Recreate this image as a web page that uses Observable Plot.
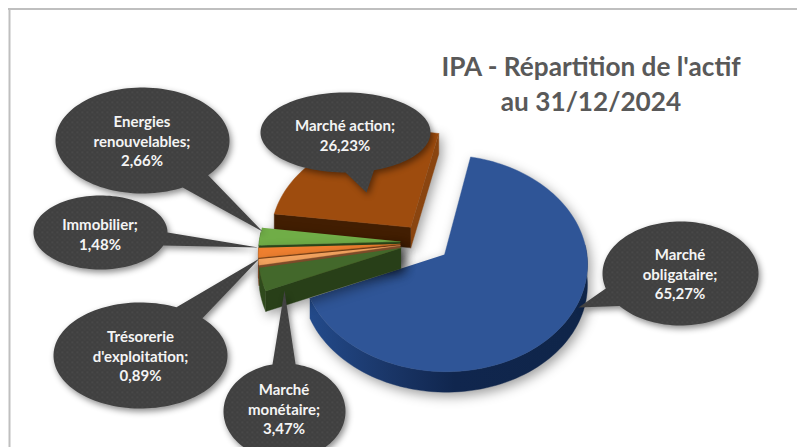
<!DOCTYPE html>
<html lang="fr">
<head>
<meta charset="utf-8">
<script src="https://cdn.jsdelivr.net/npm/d3@7"></script>
<script src="https://cdn.jsdelivr.net/npm/@observablehq/plot@0.6"></script>
<style>
  html, body { margin: 0; padding: 0; background: #fff; }
  svg { display: block; }
</style>
</head>
<body>
<div id="chart"></div>
<script>
// --- Data
const categories = ["Marché obligataire", "Marché monétaire", "Trésorerie d'exploitation", "Immobilier", "Energies renouvelables", "Marché action"];
const shares = [65.27, 3.47, 0.89, 1.48, 2.66, 26.23];
const labels = ["Marché\nobligataire;", "Marché\nmonétaire;", "Trésorerie\nd'exploitation;", "Immobilier;", "Energies\nrenouvelables;", "Marché action;"];
const titleLines = ["IPA - Répartition de l'actif", "au 31/12/2024"];

// --- Styles
const topColors = ["#2f5597", "#43682b", "#f4a460", "#f08030", "#70ad47", "#9e4c0e"];
const cutColors = ["#12264f", "#283f18", "#85502c", "#7a4018", "#2f4a1c", "#421e02"];
const sideColors = ["url(#blueWall)", "#2f4a1c", "#85502c", "#7a4018", "#2f4a1c", "#8a4510"];
const paintOrder = [0, 5, 4, 3, 2, 1];

// --- Pie geometry (perspective view of an exploded pie)
const pie = {cx: 424.6, cy: 242, r: 141, explode: 25, tilt: 0.75, persp: 0.08, depth: 20.5, start: 12};
const rad = (d) => d * Math.PI / 180;
function project(X, Z, drop = 0) {
  const s = 1 / (1 + pie.persp * Z / pie.r);
  return {x: pie.cx + X * s, y: pie.cy - Z * pie.tilt * s + drop};
}
let acc = pie.start;
const slices = shares.map((v, i) => {
  const a0 = acc, a1 = acc + v * 3.6;
  acc = a1;
  return {i, a0, a1, mid: (a0 + a1) / 2};
});
function offset(s) {
  return [pie.explode * Math.sin(rad(s.mid)), pie.explode * Math.cos(rad(s.mid))];
}
function rim(s, a, drop = 0) {
  const [ox, oz] = offset(s);
  return project(ox + pie.r * Math.sin(rad(a)), oz + pie.r * Math.cos(rad(a)), drop);
}
function apex(s, drop = 0) {
  const [ox, oz] = offset(s);
  return project(ox, oz, drop);
}
function arc(s, a0, a1, drop = 0) {
  const n = Math.max(2, Math.ceil((a1 - a0) / 2));
  return d3.range(n + 1).map((k) => rim(s, a0 + (a1 - a0) * k / n, drop));
}
function polys(s) {
  const d = pie.depth, out = [];
  const add = (key, pts, color) => pts.forEach((p) => out.push({key: `${s.i}-${key}`, x: p.x, y: p.y, color}));
  // Walls that face the viewer, then the top face
  const lo = Math.max(s.a0, 85), hi = Math.min(s.a1, 275);
  if (lo < hi) add("rim", [...arc(s, lo, hi), ...arc(s, lo, hi, d).reverse()], sideColors[s.i]);
  if (s.i !== 0) add("cut0", [apex(s), rim(s, s.a0), rim(s, s.a0, d), apex(s, d)], cutColors[s.i]);
  if (s.i === 5) add("cut1", [apex(s), rim(s, s.a1), rim(s, s.a1, d), apex(s, d)], sideColors[s.i]);
  add("top", [apex(s), ...arc(s, s.a0, s.a1)], topColors[s.i]);
  return out;
}

// --- Callout layout
const bubbles = [
  {i: 0, cx: 680, cy: 273, rx: 78, ry: 52, tip: [578, 307], base: [[605, 288], [620, 305]]},
  {i: 1, cx: 284, cy: 411, rx: 61, ry: 48, tip: [284, 290], base: [[272, 364], [295, 364]]},
  {i: 2, cx: 140, cy: 355, rx: 87, ry: 53, tip: [259, 258], base: [[178, 304], [205, 316]]},
  {i: 3, cx: 100, cy: 232, rx: 67, ry: 37, tip: [258, 247], base: [[167, 232], [163, 245]]},
  {i: 4, cx: 142, cy: 140, rx: 87, ry: 53, tip: [262, 231], base: [[183, 188], [208, 175]]},
  {i: 5, cx: 345, cy: 132, rx: 85, ry: 40, tip: [366, 192], base: [[345, 171], [373, 169]]}
];
function bubbleOutline(b) {
  const ang = ([x, y]) => Math.atan2((y - b.cy) / b.ry, (x - b.cx) / b.rx);
  let a1 = ang(b.base[0]), a2 = ang(b.base[1]);
  let delta = (a2 - a1 + 2 * Math.PI) % (2 * Math.PI);
  if (delta < Math.PI) { [a1, a2] = [a2, a1]; delta = 2 * Math.PI - delta; }
  const n = 120;
  const pts = d3.range(n + 1).map((k) => {
    const t = a1 + delta * k / n;
    return {x: b.cx + b.rx * Math.cos(t), y: b.cy + b.ry * Math.sin(t), key: b.i};
  });
  pts.push({x: b.tip[0], y: b.tip[1], key: b.i});
  return pts;
}
const fmt = (v) => v.toFixed(2).replace(".", ",") + "%";
const textDy = [0, -3, 0, 1, 0, 2];
const bubbleText = bubbles.map((b) => ({
  x: b.cx - (b.i === 2 ? 0 : 0.5), y: b.cy + textDy[b.i] - (b.i === 5 ? 0 : 0),
  text: `${labels[b.i]}\n${fmt(shares[b.i])}`
}));

// Pattern and gradient definitions, added as a render-only mark
const defs = () => {
  const ns = "http://www.w3.org/2000/svg";
  const g = document.createElementNS(ns, "defs");
  g.innerHTML = `
    <pattern id="dots" width="5" height="5" patternUnits="userSpaceOnUse">
      <rect width="5" height="5" fill="#404040"/>
      <rect x="1" y="1" width="1.6" height="1.6" fill="#4c4c4c"/>
      <rect x="3.5" y="3.5" width="1.4" height="1.4" fill="#484848"/>
    </pattern>
    <linearGradient id="blueWall" gradientUnits="userSpaceOnUse" x1="310" x2="587" y1="0" y2="0">
      <stop offset="0" stop-color="#234a8a"/>
      <stop offset="0.28" stop-color="#1a3668"/>
      <stop offset="0.52" stop-color="#10264e"/>
      <stop offset="1" stop-color="#0f2549"/>
    </linearGradient>`;
  return g;
};

const pieShadow = "drop-shadow(3px 4px 6px rgba(0,0,0,0.38))";
const bubbleShadow = "drop-shadow(2px 3px 3px rgba(0,0,0,0.45))";

const sliceMarks = paintOrder.map((i) => Plot.line(polys(slices[i]), {
  x: "x", y: "y", z: "key", fill: "color", stroke: "color", strokeWidth: 0.4, imageFilter: pieShadow
}));

const chart = Plot.plot({
  width: 797,
  height: 447,
  margin: 0,
  x: {domain: [0, 797], range: [0, 797], axis: null},
  y: {domain: [0, 447], range: [0, 447], axis: null},
  color: {type: "identity"},
  style: {background: "#fff", fontFamily: "Lato, sans-serif"},
  marks: [
    defs,
    Plot.ruleY([8.5], {x1: 8, x2: 797, stroke: "#bfbfbf", strokeWidth: 2}),
    Plot.ruleX([9], {y1: 8, y2: 447, stroke: "#bfbfbf", strokeWidth: 2}),
    ...sliceMarks,
    ...bubbles.map((b) => Plot.line(bubbleOutline(b), {
      x: "x", y: "y", z: "key", fill: "url(#dots)", stroke: "none", imageFilter: bubbleShadow
    })),
    Plot.text(bubbleText, {
      x: "x", y: "y", text: "text", fill: "#f4f4f4", fontSize: 15, fontWeight: 700, lineHeight: 1.31, textAnchor: "middle"
    }),
    Plot.text(titleLines, {
      x: () => 590.5, y: (d, i) => [67, 102][i], text: (d) => d, fill: "#595959", fontSize: 26.2, fontWeight: 700, textAnchor: "middle"
    })
  ]
});
document.getElementById("chart").appendChild(chart);
</script>
</body>
</html>
